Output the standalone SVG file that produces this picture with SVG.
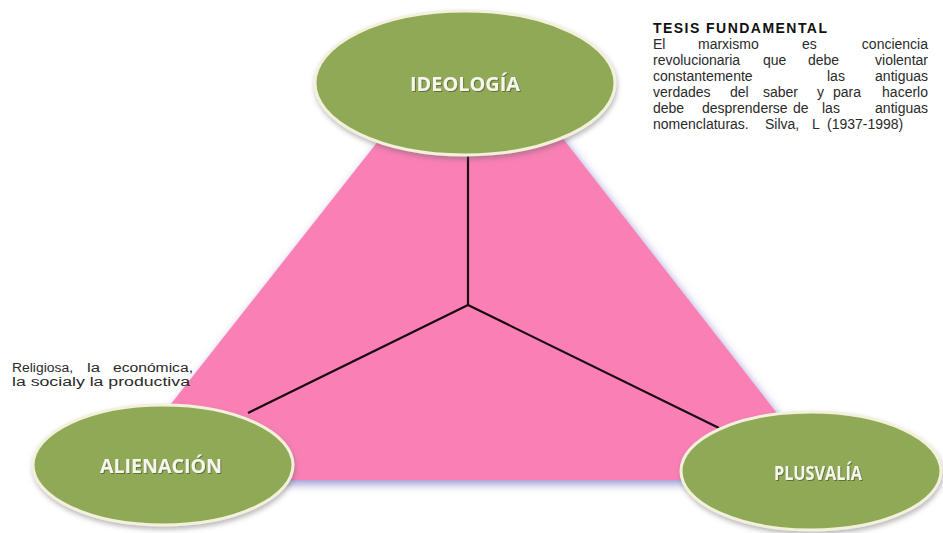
<svg xmlns="http://www.w3.org/2000/svg" width="943" height="533" viewBox="0 0 943 533">
<style>
.node{fill:#8fa957;stroke:#f3f1dc;stroke-width:3}
.lbl{font-family:"Open Sans",Lato,sans-serif;font-weight:bold;font-size:19px;fill:#f6f6ee;text-anchor:middle}
.note{font-family:"Liberation Sans",Arial,sans-serif;font-size:14px;fill:#2a2a2a}
.rn{font-family:"Liberation Sans",Arial,sans-serif;font-size:12px;fill:#2a2a2a}
.end{text-anchor:end}
.ttl{font-family:"Liberation Sans",Arial,sans-serif;font-size:14px;font-weight:bold;fill:#111}
.conn{stroke:#1a0a10;stroke-width:2.2;fill:none}
</style>
<defs>
<filter id="sh" x="-10%" y="-10%" width="120%" height="125%">
<feDropShadow dx="2" dy="4" stdDeviation="5" flood-color="#8e86cc" flood-opacity="0.9"/>
</filter>
<filter id="esh" x="-10%" y="-10%" width="120%" height="130%">
<feDropShadow dx="1" dy="3" stdDeviation="2.5" flood-color="#666" flood-opacity="0.45"/>
</filter>
<filter id="tsh"><feDropShadow dx="1" dy="1" stdDeviation="0.6" flood-color="#4a5a2a" flood-opacity="0.7"/></filter>
</defs>
<rect width="943" height="533" fill="#ffffff"/>
<g id="triangle">
<polygon points="472,22 829,480 111,480" fill="#f97fb5" filter="url(#sh)"/>
</g>
<g id="connectors">
<line class="conn" x1="468" y1="154" x2="468" y2="305"/>
<line class="conn" x1="468" y1="305" x2="248" y2="413"/>
<line class="conn" x1="468" y1="305" x2="719" y2="428"/>
</g>
<g id="ideologia">
<ellipse class="node" cx="465" cy="83" rx="150" ry="72" filter="url(#esh)"/>
<text class="lbl" x="465" y="91" textLength="110" lengthAdjust="spacingAndGlyphs" filter="url(#tsh)">IDEOLOGÍA</text>
</g>
<g id="alienacion">
<ellipse class="node" cx="163" cy="465" rx="130" ry="60" filter="url(#esh)"/>
<text class="lbl" x="161" y="473" textLength="122" lengthAdjust="spacingAndGlyphs" filter="url(#tsh)">ALIENACIÓN</text>
</g>
<g id="plusvalia">
<ellipse class="node" cx="811" cy="471" rx="130" ry="59" filter="url(#esh)"/>
<text class="lbl" x="818" y="480" textLength="88" lengthAdjust="spacingAndGlyphs" filter="url(#tsh)">PLUSVALÍA</text>
</g>
<g id="tesis">
<text class="ttl" x="653" y="33" textLength="174" lengthAdjust="spacing">TESIS FUNDAMENTAL</text>
<text class="note" y="49"><tspan x="653">El</tspan><tspan x="698">marxismo</tspan><tspan x="802">es</tspan></text>
<text class="note end" x="928" y="49">conciencia</text>
<text class="note" y="65"><tspan x="653">revolucionaria</tspan><tspan x="763">que</tspan><tspan x="808">debe</tspan></text>
<text class="note end" x="928" y="65">violentar</text>
<text class="note" y="81"><tspan x="653">constantemente</tspan><tspan x="827">las</tspan></text>
<text class="note end" x="928" y="81">antiguas</text>
<text class="note" y="97"><tspan x="653">verdades</tspan><tspan x="730">del</tspan><tspan x="763">saber</tspan><tspan x="817">y</tspan><tspan x="833">para</tspan></text>
<text class="note end" x="928" y="97">hacerlo</text>
<text class="note" y="113"><tspan x="653">debe</tspan><tspan x="702">desprenderse</tspan><tspan x="793">de</tspan><tspan x="822">las</tspan></text>
<text class="note end" x="928" y="113">antiguas</text>
<text class="note" y="129"><tspan x="653">nomenclaturas.</tspan><tspan x="765">Silva,</tspan><tspan x="812">L</tspan><tspan x="827">(1937-1998)</tspan></text>
</g>
<g id="alienacion-note">
<text class="rn" x="12" y="372" textLength="61" lengthAdjust="spacingAndGlyphs">Religiosa,</text>
<text class="rn" x="87" y="372" textLength="13" lengthAdjust="spacingAndGlyphs">la</text>
<text class="rn" x="113" y="372" textLength="80" lengthAdjust="spacingAndGlyphs">económica,</text>
<text class="rn" x="12" y="386" textLength="178" lengthAdjust="spacingAndGlyphs">la socialy la productiva</text>
</g>
</svg>
